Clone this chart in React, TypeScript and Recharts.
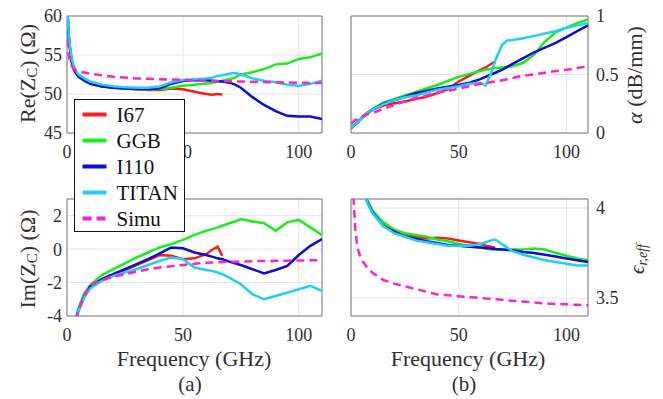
import React from 'react';
import { LineChart, Line, XAxis, YAxis, CartesianGrid, ReferenceArea } from 'recharts';

// frequency samples (GHz), shared by every panel
const FREQ = [0, 0.5, 1, 2, 3, 4, 5, 7.5, 10, 15, 20, 25, 30, 35, 40, 45, 50, 55, 60, 62.5, 65, 67, 70, 72.5, 75, 80, 85, 90, 95, 100, 105, 110];

// Re(Zc) in ohm
const RE_I67 = [63, 58.5, 56.5, 54.3, 53.2, 52.7, 52.3, 51.8, 51.4, 51.0, 50.8, 50.7, 50.6, 50.5, 50.5, 50.7, 50.6, 50.3, 50.0, 49.9, 50.0, 49.95];
const RE_GGB = [63, 58.5, 56.5, 54.3, 53.2, 52.7, 52.3, 51.8, 51.4, 51.0, 50.85, 50.75, 50.65, 50.6, 50.65, 50.8, 51.05, 51.2, 51.35, 51.4, 51.6, 51.7, 51.9, 52.1, 52.5, 52.8, 53.2, 53.8, 53.9, 54.5, 54.7, 55.2];
const RE_I110 = [63, 58.5, 56.5, 54.2, 53.1, 52.6, 52.2, 51.7, 51.3, 50.95, 50.8, 50.7, 50.65, 50.65, 50.75, 51.3, 51.65, 51.8, 51.75, 51.7, 51.65, 51.6, 51.45, 51.2, 50.8, 49.6, 48.6, 47.8, 47.2, 47.1, 47.1, 46.8];
const RE_TITAN = [63, 58.7, 56.8, 54.6, 53.5, 52.9, 52.5, 52.0, 51.6, 51.2, 51.0, 50.85, 50.8, 50.8, 50.95, 51.5, 51.8, 51.9, 52.0, 52.1, 52.3, 52.4, 52.6, 52.7, 52.5, 52.0, 51.7, 51.5, 51.2, 51.05, 51.3, 51.7];
const RE_SIMU = [57, 55.5, 54.6, 53.6, 53.2, 53.0, 52.9, 52.75, 52.6, 52.4, 52.2, 52.1, 52.0, 51.95, 51.9, 51.85, 51.8, 51.75, 51.7, 51.7, 51.68, 51.66, 51.65, 51.62, 51.6, 51.58, 51.55, 51.5, 51.47, 51.45, 51.42, 51.4];

// alpha in dB/mm
const AL_I67 = [0.04, 0.05, 0.06, 0.075, 0.09, 0.11, 0.13, 0.17, 0.2, 0.235, 0.255, 0.27, 0.29, 0.31, 0.34, 0.375, 0.44, 0.49, 0.54, 0.56, 0.59, 0.61];
const AL_GGB = [0.04, 0.05, 0.06, 0.075, 0.09, 0.11, 0.13, 0.17, 0.205, 0.26, 0.29, 0.32, 0.35, 0.38, 0.41, 0.445, 0.48, 0.505, 0.53, 0.54, 0.55, 0.555, 0.56, 0.565, 0.57, 0.6, 0.67, 0.78, 0.86, 0.9, 0.94, 0.97];
const AL_I110 = [0.04, 0.05, 0.06, 0.075, 0.09, 0.11, 0.13, 0.17, 0.2, 0.25, 0.28, 0.31, 0.34, 0.36, 0.38, 0.395, 0.41, 0.43, 0.46, 0.48, 0.5, 0.515, 0.54, 0.565, 0.59, 0.64, 0.69, 0.73, 0.77, 0.82, 0.87, 0.92];
const AL_TITAN = [0.04, 0.05, 0.06, 0.075, 0.09, 0.11, 0.13, 0.17, 0.2, 0.245, 0.28, 0.305, 0.32, 0.345, 0.37, 0.385, 0.4, 0.42, 0.43, 0.405, 0.51, 0.62, 0.75, 0.79, 0.795, 0.81, 0.83, 0.85, 0.87, 0.9, 0.92, 0.94];
const AL_SIMU = [0.08, 0.09, 0.095, 0.11, 0.12, 0.13, 0.14, 0.16, 0.17, 0.205, 0.24, 0.27, 0.3, 0.32, 0.345, 0.36, 0.38, 0.4, 0.42, 0.425, 0.435, 0.44, 0.45, 0.46, 0.47, 0.49, 0.5, 0.515, 0.53, 0.54, 0.555, 0.57];

// Im(Zc) in ohm
const IM_I67 = [-12, -10, -8, -6, -4.8, -4.15, -3.65, -2.85, -2.3, -1.8, -1.5, -1.25, -0.95, -0.65, -0.35, -0.4, -0.6, -0.55, -0.3, -0.05, 0.15, -0.4];
const IM_GGB = [-12, -10, -8, -6, -4.8, -4.1, -3.5, -2.65, -2.15, -1.55, -1.2, -0.85, -0.5, -0.2, 0.1, 0.3, 0.55, 0.85, 1.1, 1.2, 1.3, 1.4, 1.55, 1.65, 1.8, 1.65, 1.55, 1.1, 1.6, 1.75, 1.3, 0.85];
const IM_I110 = [-12, -10, -8, -6, -4.8, -4.15, -3.65, -2.8, -2.25, -1.8, -1.5, -1.2, -0.9, -0.6, -0.25, 0.1, 0.05, -0.2, -0.35, -0.45, -0.55, -0.6, -0.75, -0.85, -0.95, -1.2, -1.45, -1.25, -1.0, -0.35, 0.2, 0.6];
const IM_TITAN = [-12, -10, -8, -6, -4.8, -4.15, -3.65, -2.85, -2.35, -1.9, -1.6, -1.4, -1.2, -0.95, -0.7, -0.5, -0.6, -1.1, -1.25, -1.3, -1.4, -1.5, -1.7, -1.9, -2.1, -2.7, -3.0, -2.8, -2.6, -2.4, -2.2, -2.5];
const IM_SIMU = [-12, -10, -8, -6, -4.8, -4.1, -3.6, -2.75, -2.15, -1.85, -1.65, -1.5, -1.35, -1.2, -1.1, -1.02, -0.95, -0.88, -0.82, -0.8, -0.78, -0.77, -0.76, -0.75, -0.74, -0.72, -0.71, -0.7, -0.69, -0.68, -0.67, -0.67];

// effective permittivity
const EP_I67 = [5, 4.8, 4.6, 4.4, 4.3, 4.2, 4.15, 4.04, 3.98, 3.91, 3.87, 3.85, 3.84, 3.83, 3.835, 3.83, 3.82, 3.81, 3.8, 3.79, 3.785, 3.78];
const EP_GGB = [5, 4.8, 4.6, 4.4, 4.3, 4.2, 4.15, 4.045, 3.985, 3.92, 3.88, 3.86, 3.85, 3.84, 3.825, 3.815, 3.8, 3.79, 3.78, 3.775, 3.77, 3.77, 3.77, 3.77, 3.77, 3.77, 3.775, 3.77, 3.75, 3.735, 3.72, 3.71];
const EP_I110 = [5, 4.8, 4.6, 4.4, 4.3, 4.2, 4.15, 4.035, 3.975, 3.9, 3.87, 3.84, 3.83, 3.815, 3.805, 3.795, 3.79, 3.785, 3.78, 3.778, 3.775, 3.772, 3.77, 3.767, 3.765, 3.755, 3.75, 3.74, 3.73, 3.72, 3.71, 3.7];
const EP_TITAN = [5, 4.8, 4.6, 4.4, 4.3, 4.2, 4.15, 4.03, 3.97, 3.9, 3.86, 3.84, 3.82, 3.81, 3.8, 3.79, 3.79, 3.79, 3.8, 3.81, 3.82, 3.825, 3.8, 3.78, 3.76, 3.74, 3.725, 3.71, 3.7, 3.69, 3.68, 3.68];
const EP_SIMU = [5, 4.3, 4.1, 3.88, 3.78, 3.74, 3.71, 3.67, 3.64, 3.6, 3.58, 3.565, 3.55, 3.535, 3.52, 3.515, 3.51, 3.505, 3.5, 3.497, 3.495, 3.493, 3.49, 3.487, 3.485, 3.48, 3.475, 3.47, 3.467, 3.465, 3.462, 3.46];

const SERIES = [
  { key: 'I67', color: '#ff1a1a', dash: undefined },
  { key: 'GGB', color: '#1aee1a', dash: undefined },
  { key: 'I110', color: '#0c0cd6', dash: undefined },
  { key: 'TITAN', color: '#1ecff7', dash: undefined },
  { key: 'Simu', color: '#ff22cc', dash: '8 5' },
];

const FONT = "'Liberation Serif', 'DejaVu Serif', serif";
const INK = '#303030';
const TICK = { fontSize: 18, fill: INK, style: { fontFamily: FONT } };

const rowsOf = (cols: number[][]) =>
  FREQ.map((f, i) => {
    const row: any = { f };
    SERIES.forEach((s, j) => { row[s.key] = cols[j][i] ?? null; });
    return row;
  });

const RE_ROWS = rowsOf([RE_I67, RE_GGB, RE_I110, RE_TITAN, RE_SIMU]);
const AL_ROWS = rowsOf([AL_I67, AL_GGB, AL_I110, AL_TITAN, AL_SIMU]);
const IM_ROWS = rowsOf([IM_I67, IM_GGB, IM_I110, IM_TITAN, IM_SIMU]);
const EP_ROWS = rowsOf([EP_I67, EP_GGB, EP_I110, EP_TITAN, EP_SIMU]);

const rotText = (x: number, y: number, children: React.ReactNode, italic = false, size = 22) => (
  <text x={x} y={y} transform={`rotate(-90 ${x} ${y})`} textAnchor="middle" dominantBaseline="central"
    fontSize={size} fill={INK} style={{ fontFamily: FONT, fontStyle: italic ? 'italic' : 'normal' }}>
    {children}
  </text>
);

const Panel = ({ left, top, height, side, rows, domain, ticks, yLabel, xLabel }: any) => {
  const isLeft = side === 'left';
  const width = isLeft ? 330 : 317;
  const mTop = top === 0 ? 16 : 29;
  return (
    <div style={{ position: 'absolute', left, top }}>
      <LineChart width={width} height={height} data={rows}
        margin={{ top: mTop, right: isLeft ? 8 : 0, bottom: 0, left: isLeft ? 0 : 5 }}>
        <CartesianGrid stroke="#e4e4e4" />
        <XAxis dataKey="f" type="number" domain={[0, 110]} ticks={[0, 50, 100]} allowDataOverflow
          tick={TICK} tickLine={false} axisLine={false} tickMargin={6} height={height - mTop - 117}
          label={xLabel ? () => xLabel(left, top) : undefined} />
        <YAxis type="number" orientation={side} width={isLeft ? 67 : 75} domain={domain} ticks={ticks}
          allowDataOverflow tick={TICK} tickLine={false} axisLine={false}
          tickSize={isLeft ? 4 : 6} tickMargin={isLeft ? 1 : 2}
          label={() => yLabel(left, top)} />
        {SERIES.map((s) => (
          <Line key={s.key} dataKey={s.key} stroke={s.color} strokeWidth={2.5} strokeDasharray={s.dash}
            dot={false} activeDot={false} connectNulls={false} isAnimationActive={false} />
        ))}
        <ReferenceArea x1={0} x2={110} y1={domain[0]} y2={domain[1]} fill="none" stroke="#7d7d7d"
          strokeWidth={1} ifOverflow="visible" />
      </LineChart>
    </div>
  );
};

const freqLabel = (cx: number, tag: string) => (left: number, top: number) => (
  <g fill={INK} textAnchor="middle" style={{ fontFamily: FONT }}>
    <text x={cx - left} y={366 - top} fontSize={22} style={{ fontFamily: FONT }}>Frequency (GHz)</text>
    <text x={cx - 4 - left} y={391 - top} fontSize={21} style={{ fontFamily: FONT }}>{tag}</text>
  </g>
);

const Legend = () => (
  <div style={{ position: 'absolute', left: 74, top: 99, width: 111, height: 133, boxSizing: 'border-box',
    border: '1.5px solid #111', background: '#fff', zIndex: 5 }}>
    <svg width={108} height={130} style={{ display: 'block' }}>
      {SERIES.map((s, i) => {
        const y = 14.5 + i * 26;
        return (
          <g key={s.key}>
            <line x1={7.5} x2={31.5} y1={y} y2={y} stroke={s.color} strokeWidth={4}
              strokeDasharray={s.dash ? '9 5' : undefined} />
            <text x={41.5} y={y} dominantBaseline="central" fontSize={21} fill="#111"
              style={{ fontFamily: FONT }}>{s.key}</text>
          </g>
        );
      })}
    </svg>
  </div>
);

export default function App() {
  return (
    <div style={{ position: 'absolute', left: 0, top: 0, width: 663, height: 399, background: '#fff',
      overflow: 'hidden', fontFamily: FONT }}>
      <Panel left={0} top={0} height={163} side="left" rows={RE_ROWS} domain={[45, 60]} ticks={[45, 50, 55, 60]}
        yLabel={(l: number, t: number) => rotText(27 - l, 73.5 - t,
          <>Re(Z<tspan dy={5} fontSize={15}>C</tspan><tspan dy={-5}>) (Ω)</tspan></>)} />
      <Panel left={346} top={0} height={163} side="right" rows={AL_ROWS} domain={[0, 1]} ticks={[0, 0.5, 1]}
        yLabel={(l: number, t: number) => rotText(634 - l, 75 - t, <><tspan style={{ fontStyle: 'italic' }}>α</tspan> (dB/mm)</>)} />
      <Panel left={0} top={170} height={229} side="left" rows={IM_ROWS} domain={[-4, 3]} ticks={[-4, -2, 0, 2]}
        xLabel={freqLabel(194, '(a)')}
        yLabel={(l: number, t: number) => rotText(27 - l, 259 - t,
          <>Im(Z<tspan dy={5} fontSize={15}>C</tspan><tspan dy={-5}>) (Ω)</tspan></>)} />
      <Panel left={346} top={170} height={229} side="right" rows={EP_ROWS} domain={[3.4, 4.05]} ticks={[3.5, 4]}
        xLabel={freqLabel(468, '(b)')}
        yLabel={(l: number, t: number) => rotText(637 - l, 259 - t,
          <>ϵ<tspan dy={5} fontSize={14}>r,eff</tspan></>, true, 21)} />
      <Legend />
    </div>
  );
}
